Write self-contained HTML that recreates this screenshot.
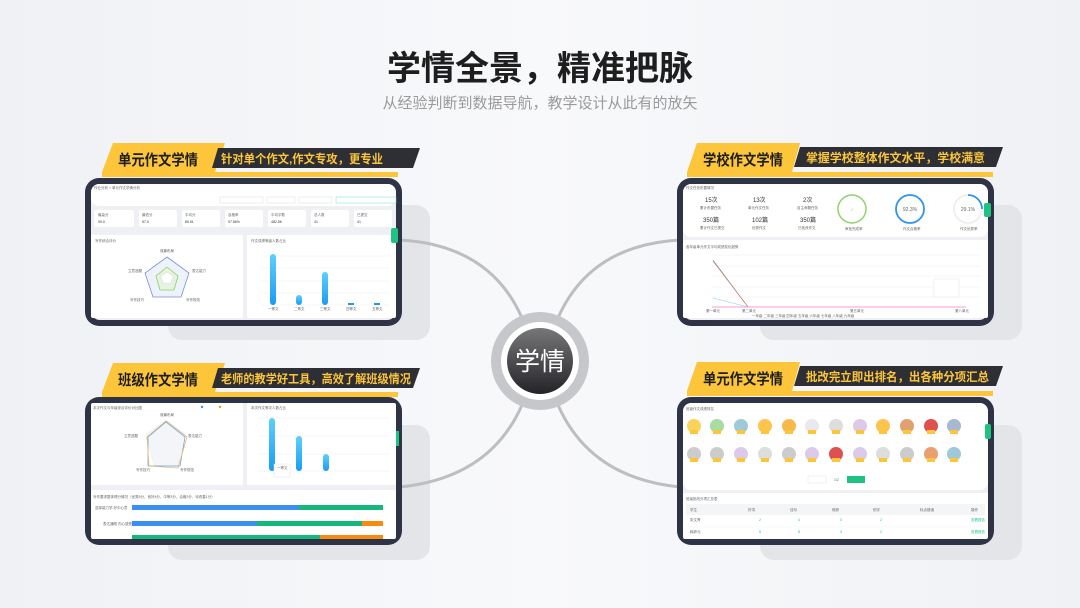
<!DOCTYPE html>
<html><head><meta charset="utf-8"><style>
html,body{margin:0;padding:0;width:1080px;height:608px;overflow:hidden;background:#f3f4f8}
svg{display:block}
text{font-family:"Liberation Sans","Noto Sans CJK SC",sans-serif}
</style></head><body>
<svg width="1080" height="608" viewBox="0 0 1080 608" xmlns="http://www.w3.org/2000/svg">
<defs>
<linearGradient id="bg" x1="0" y1="0" x2="1" y2="0"><stop offset="0" stop-color="#eff1f5"/><stop offset="0.5" stop-color="#f8f9fb"/><stop offset="1" stop-color="#eff1f5"/></linearGradient>
<linearGradient id="dk" x1="0" y1="0" x2="0" y2="1"><stop offset="0" stop-color="#77777a"/><stop offset="1" stop-color="#242428"/></linearGradient>
<linearGradient id="bar" x1="0" y1="0" x2="0" y2="1"><stop offset="0" stop-color="#5fd0fb"/><stop offset="1" stop-color="#1a9cf5"/></linearGradient>
</defs>
<rect width="1080" height="608" fill="url(#bg)"/>
<text x="540" y="80" text-anchor="middle" font-size="34" font-weight="bold" fill="#1e1e1e">学情全景，精准把脉</text>
<text x="540" y="108" text-anchor="middle" font-size="15" fill="#9a9a9a">从经验判断到数据导航，教学设计从此有的放矢</text>

<g fill="#e4e5e9">
<rect x="168" y="205" width="262" height="135" rx="14"/>
<rect x="760" y="205" width="262" height="135" rx="14"/>
<rect x="168" y="425" width="262" height="135" rx="14"/>
<rect x="760" y="425" width="262" height="135" rx="14"/>
</g>

<g fill="none" stroke="#bdbec1" stroke-width="3">
<path d="M400 240 Q490 245 522 318"/>
<path d="M400 487 Q490 478 522 405"/>
<path d="M680 240 Q590 245 558 318"/>
<path d="M680 487 Q590 478 558 405"/>
</g>
<circle cx="540" cy="361" r="49" fill="#c6c7ca"/>
<circle cx="540" cy="361" r="39" fill="#fff"/>
<circle cx="540" cy="361" r="33" fill="url(#dk)"/>
<text x="540" y="370" text-anchor="middle" font-size="25" fill="#fff">学情</text>

<g>
<polygon points="113,143 225,143 215,172 102,172" fill="#fcc53a"/>
<rect x="102" y="172" width="296" height="5" fill="#fcc53a"/>
<polygon points="218,148 420,148 413,168 212,168" fill="#2d2f34"/>
<text x="118" y="165" font-size="15" font-weight="bold" fill="#1d1d1d" textLength="80" lengthAdjust="spacingAndGlyphs">单元作文学情</text>
<text x="221" y="163" font-size="12" font-weight="bold" fill="#fcc53a" textLength="162" lengthAdjust="spacingAndGlyphs">针对单个作文,作文专攻，更专业</text>

<polygon points="697,143 800,143 792,172 687,172" fill="#fcc53a"/>
<rect x="687" y="172" width="306" height="5" fill="#fcc53a"/>
<polygon points="800,147 1003,147 996,167 794,167" fill="#2d2f34"/>
<text x="703" y="165" font-size="15" font-weight="bold" fill="#1d1d1d" textLength="80" lengthAdjust="spacingAndGlyphs">学校作文学情</text>
<text x="806" y="162" font-size="12" font-weight="bold" fill="#fcc53a" textLength="179" lengthAdjust="spacingAndGlyphs">掌握学校整体作文水平，学校满意</text>

<polygon points="113,363 225,363 215,392 102,392" fill="#fcc53a"/>
<rect x="102" y="392" width="296" height="5" fill="#fcc53a"/>
<polygon points="218,368 420,368 413,388 212,388" fill="#2d2f34"/>
<text x="118" y="385" font-size="15" font-weight="bold" fill="#1d1d1d" textLength="80" lengthAdjust="spacingAndGlyphs">班级作文学情</text>
<text x="221" y="383" font-size="12" font-weight="bold" fill="#fcc53a" textLength="190" lengthAdjust="spacingAndGlyphs">老师的教学好工具，高效了解班级情况</text>

<polygon points="697,362 800,362 792,391 687,391" fill="#fcc53a"/>
<rect x="687" y="391" width="306" height="5" fill="#fcc53a"/>
<polygon points="800,366 1003,366 996,386 794,386" fill="#2d2f34"/>
<text x="703" y="384" font-size="15" font-weight="bold" fill="#1d1d1d" textLength="80" lengthAdjust="spacingAndGlyphs">单元作文学情</text>
<text x="806" y="381" font-size="12" font-weight="bold" fill="#fcc53a" textLength="183" lengthAdjust="spacingAndGlyphs">批改完立即出排名，出各种分项汇总</text>
</g>

<g fill="#2e3446">
<rect x="85" y="178" width="317" height="148" rx="14"/>
<rect x="677" y="178" width="317" height="148" rx="14"/>
<rect x="85" y="397" width="317" height="148" rx="14"/>
<rect x="677" y="397" width="317" height="148" rx="14"/>
</g>
<g fill="#eef0f3">
<rect x="91" y="184" width="305" height="136" rx="9"/>
<rect x="683" y="184" width="305" height="136" rx="9"/>
<rect x="91" y="403" width="305" height="136" rx="9"/>
<rect x="683" y="403" width="305" height="136" rx="9"/>
</g>

<g font-size="3.5" fill="#666">
<rect x="91" y="184" width="305" height="22" rx="8" fill="#fff"/>
<text x="94" y="189">作业分析 &gt; 单元作文学情分析</text>
<rect x="220" y="197" width="43" height="6" fill="#fff" stroke="#ddd" stroke-width="0.5"/>
<rect x="267" y="197" width="28" height="6" fill="#fff" stroke="#ddd" stroke-width="0.5"/>
<rect x="299" y="197" width="33" height="6" fill="#fff" stroke="#ddd" stroke-width="0.5"/>
<rect x="336" y="197" width="60" height="6" fill="#fff" stroke="#7dd" stroke-width="0.5"/>
<g fill="#fff">
<rect x="94" y="210" width="40" height="17" rx="2"/><rect x="139" y="210" width="38" height="17" rx="2"/>
<rect x="182" y="210" width="38" height="17" rx="2"/><rect x="225" y="210" width="38" height="17" rx="2"/>
<rect x="268" y="210" width="38" height="17" rx="2"/><rect x="311" y="210" width="38" height="17" rx="2"/>
<rect x="354" y="210" width="38" height="17" rx="2"/>
</g>
<text x="98" y="216">最高分</text><text x="98" y="223" fill="#333">99.0</text>
<text x="142" y="216">最低分</text><text x="142" y="223" fill="#333">57.0</text>
<text x="185" y="216">平均分</text><text x="185" y="223" fill="#333">85.51</text>
<text x="228" y="216">及格率</text><text x="228" y="223" fill="#333">97.56%</text>
<text x="271" y="216">平均字数</text><text x="271" y="223" fill="#333">482.56</text>
<text x="314" y="216">总人数</text><text x="314" y="223" fill="#333">41</text>
<text x="357" y="216">已提交</text><text x="357" y="223" fill="#333">41</text>
<rect x="91" y="235" width="152" height="83" rx="2" fill="#fff"/>
<rect x="247" y="235" width="149" height="83" rx="2" fill="#fff"/>
<text x="95" y="242">写作综合评价</text>
<text x="251" y="242">作文成绩等级人数占比</text>
<polygon points="167,257 189,273 181,297 153,297 145,273" fill="#eef2fb" stroke="#7a8ed6" stroke-width="0.8"/>
<polygon points="167,267 178,276 174,290 160,290 156,276" fill="#e6f3e0" stroke="#8ccf6a" stroke-width="0.8"/>
<g stroke="#ddd" stroke-width="0.5" fill="#fff"><polygon points="167,272 173,276 171,283 163,283 161,276"/></g>
<text x="160" y="252">谋篇布局</text><text x="192" y="272">表达能力</text><text x="186" y="301">写作规范</text><text x="130" y="301">写作技巧</text><text x="128" y="272">立意选题</text>
<g stroke="#eee" stroke-width="0.5"><line x1="262" y1="256" x2="390" y2="256"/><line x1="262" y1="268" x2="390" y2="268"/><line x1="262" y1="281" x2="390" y2="281"/><line x1="262" y1="293" x2="390" y2="293"/><line x1="262" y1="305" x2="390" y2="305"/></g>
<rect x="270" y="254" width="6" height="51" rx="3" fill="url(#bar)"/>
<rect x="296" y="295" width="6" height="10" rx="3" fill="url(#bar)"/>
<rect x="322" y="272" width="6" height="33" rx="3" fill="url(#bar)"/>
<rect x="348" y="303" width="6" height="2" fill="#1a9cf5"/>
<rect x="374" y="303" width="6" height="2" fill="#1a9cf5"/>
<text x="268" y="310">一等文</text><text x="294" y="310">二等文</text><text x="320" y="310">三等文</text><text x="346" y="310">四等文</text><text x="372" y="310">五等文</text>
<rect x="391" y="228" width="7" height="15" rx="2" fill="#1ec383"/>
</g>

<g font-size="3.5" fill="#666">
<rect x="683" y="184" width="305" height="53" rx="8" fill="#fff"/>
<text x="686" y="189">作文任务布置情况</text>
<g fill="#333" font-size="6"><text x="705" y="202">15次</text><text x="753" y="202">13次</text><text x="803" y="202">2次</text>
<text x="703" y="222">350篇</text><text x="752" y="222">102篇</text><text x="800" y="222">350篇</text></g>
<text x="700" y="209">累计布置任务</text><text x="748" y="209">单元作文任务</text><text x="797" y="209">自主命题任务</text>
<text x="700" y="229">累计作文已提交</text><text x="752" y="229">优秀作文</text><text x="798" y="229">已批改作文</text>
<circle cx="852" cy="209" r="14" fill="none" stroke="#8bd36a" stroke-width="1.5"/>
<text x="852" y="211" text-anchor="middle" fill="#8bd36a">✓</text>
<circle cx="910" cy="209" r="14" fill="none" stroke="#2d94ef" stroke-width="1.8"/>
<text x="910" y="211" text-anchor="middle" font-size="5">92.3%</text>
<circle cx="968" cy="209" r="14" fill="none" stroke="#eee" stroke-width="1.8"/>
<path d="M968 195 A14 14 0 0 1 982 209" fill="none" stroke="#2d94ef" stroke-width="1.8"/>
<text x="968" y="211" text-anchor="middle" font-size="5">29.1%</text>
<text x="845" y="230">审批完成率</text><text x="903" y="230">作文合格率</text><text x="960" y="230">作文优秀率</text>
<rect x="683" y="240" width="305" height="78" rx="2" fill="#fff"/>
<text x="686" y="248">各年级单元作文平均成绩变化趋势</text>
<g stroke="#eee" stroke-width="0.5"><line x1="712" y1="255" x2="980" y2="255"/><line x1="712" y1="266" x2="980" y2="266"/><line x1="712" y1="276" x2="980" y2="276"/><line x1="712" y1="287" x2="980" y2="287"/><line x1="712" y1="297" x2="980" y2="297"/></g>
<line x1="712" y1="307" x2="966" y2="307" stroke="#f3a" stroke-width="0.6"/>
<polyline points="713,260 748,307" stroke="#3a9" stroke-width="0.6" fill="none"/>
<polyline points="713,261 748,307" stroke="#e55" stroke-width="0.6" fill="none"/>
<polyline points="713,298 748,307" stroke="#7cd1f0" stroke-width="0.6" fill="none"/>
<rect x="934" y="279" width="25" height="18" fill="#fff" stroke="#ddd" stroke-width="0.4"/>
<text x="706" y="312">第一单元</text><text x="742" y="312">第二单元</text><text x="850" y="312">第五单元</text><text x="955" y="312">第八单元</text>
<text x="752" y="317">一年级 二年级 三年级 四年级 五年级 六年级 七年级 八年级 九年级</text>
<rect x="984" y="203" width="7" height="14" rx="2" fill="#1ec383"/>
</g>

<g font-size="3.5" fill="#666">
<rect x="91" y="403" width="152" height="82" rx="2" fill="#fff"/>
<rect x="247" y="403" width="149" height="82" rx="2" fill="#fff"/>
<text x="93" y="409">本次作文与年级综合评价对比图</text><text x="251" y="409">本次作文等次人数占比</text>
<circle cx="202" cy="407" r="1.2" fill="#2d94ef"/><circle cx="220" cy="407" r="1.2" fill="#f90"/>
<polygon points="166,420 186,434 178,466 154,466 146,434" fill="#f4f5f9" stroke="#eee" stroke-width="0.5"/>
<polygon points="166,422 185,437 180,466 148,466 148,437" fill="none" stroke="#5aa0ea" stroke-width="0.7"/>
<polygon points="166,421 187,437 178,468 149,466 147,437" fill="none" stroke="#e9b86c" stroke-width="0.8"/>
<text x="160" y="416">谋篇布局</text><text x="188" y="437">表达能力</text><text x="180" y="471">写作规范</text><text x="136" y="471">写作技巧</text><text x="124" y="437">立意选题</text>
<g stroke="#eee" stroke-width="0.5"><line x1="258" y1="418" x2="390" y2="418"/><line x1="258" y1="436" x2="390" y2="436"/><line x1="258" y1="454" x2="390" y2="454"/><line x1="258" y1="471" x2="390" y2="471"/></g>
<rect x="269" y="418" width="6" height="53" rx="3" fill="url(#bar)"/>
<rect x="296" y="436" width="6" height="35" rx="3" fill="url(#bar)"/>
<rect x="323" y="454" width="6" height="17" rx="3" fill="url(#bar)"/>
<rect x="274" y="464" width="16" height="13" fill="#fff" stroke="#ddd" stroke-width="0.4"/>
<text x="277" y="469">一等文</text>
<rect x="91" y="490" width="305" height="49" rx="2" fill="#fff"/>
<text x="93" y="498">写作要求整体得分情况（优秀5分、良好4分、中等3分、合格2分、待改善1分）</text>
<rect x="132" y="505" width="167" height="5" fill="#3a8ff0"/><rect x="299" y="505" width="84" height="5" fill="#14b87a"/>
<rect x="132" y="521" width="125" height="5" fill="#3a8ff0"/><rect x="257" y="521" width="105" height="5" fill="#14b87a"/><rect x="362" y="521" width="21" height="5" fill="#f98a10"/>
<rect x="132" y="535" width="188" height="4" fill="#14b87a"/><rect x="320" y="535" width="63" height="4" fill="#f98a10"/>
<text x="95" y="509">选择能力学 好中心意</text><text x="103" y="525">表达通顺 内心感受</text>
<rect x="396" y="431" width="3" height="15" fill="#1ec383"/>
</g>

<g font-size="3.5" fill="#666">
<rect x="683" y="403" width="305" height="87" rx="8" fill="#fff"/>
<text x="686" y="410">班级作文成绩排名</text>
<g>
<circle cx="694" cy="426" r="7" fill="#fbd35a"/><circle cx="717" cy="426" r="7" fill="#a8dca0"/><circle cx="741" cy="426" r="7" fill="#9fc8d8"/><circle cx="765" cy="426" r="7" fill="#fbc451"/><circle cx="789" cy="426" r="7" fill="#f7b94a"/><circle cx="812" cy="426" r="7" fill="#e8e8ee"/><circle cx="836" cy="426" r="7" fill="#ddd"/><circle cx="860" cy="426" r="7" fill="#dccbe8"/><circle cx="883" cy="426" r="7" fill="#fbc451"/><circle cx="907" cy="426" r="7" fill="#e0a070"/><circle cx="931" cy="426" r="7" fill="#e05050"/><circle cx="954" cy="426" r="7" fill="#a8b8d0"/>
<circle cx="694" cy="454" r="7" fill="#ccc"/><circle cx="717" cy="454" r="7" fill="#ccc"/><circle cx="741" cy="454" r="7" fill="#dccbe8"/><circle cx="765" cy="454" r="7" fill="#ddd"/><circle cx="789" cy="454" r="7" fill="#ccc"/><circle cx="812" cy="454" r="7" fill="#dccbe8"/><circle cx="836" cy="454" r="7" fill="#e05050"/><circle cx="860" cy="454" r="7" fill="#dccbe8"/><circle cx="883" cy="454" r="7" fill="#ddd"/><circle cx="907" cy="454" r="7" fill="#ccc"/><circle cx="931" cy="454" r="7" fill="#e8a070"/><circle cx="954" cy="454" r="7" fill="#9fc8d8"/>
</g>
<g fill="#fcc53a"><rect x="690" y="430" width="8" height="4"/><rect x="713" y="430" width="8" height="4"/><rect x="737" y="430" width="8" height="4"/><rect x="761" y="430" width="8" height="4"/><rect x="785" y="430" width="8" height="4"/><rect x="808" y="430" width="8" height="4"/><rect x="832" y="430" width="8" height="4"/><rect x="856" y="430" width="8" height="4"/><rect x="879" y="430" width="8" height="4"/><rect x="903" y="430" width="8" height="4"/><rect x="927" y="430" width="8" height="4"/><rect x="950" y="430" width="8" height="4"/>
<rect x="690" y="458" width="8" height="4"/><rect x="713" y="458" width="8" height="4"/><rect x="737" y="458" width="8" height="4"/><rect x="761" y="458" width="8" height="4"/><rect x="785" y="458" width="8" height="4"/><rect x="808" y="458" width="8" height="4"/><rect x="832" y="458" width="8" height="4"/><rect x="856" y="458" width="8" height="4"/><rect x="879" y="458" width="8" height="4"/><rect x="903" y="458" width="8" height="4"/><rect x="927" y="458" width="8" height="4"/><rect x="950" y="458" width="8" height="4"/></g>
<rect x="808" y="476" width="18" height="7" fill="#fff" stroke="#ddd" stroke-width="0.4"/>
<text x="834" y="481">1/2</text>
<rect x="847" y="476" width="18" height="7" fill="#1ec383"/>
<rect x="683" y="493" width="305" height="46" rx="2" fill="#fff"/>
<text x="686" y="500">班级批改分项汇总表</text>
<rect x="686" y="504" width="299" height="11" fill="#f4f5f7"/>
<text x="690" y="511">学生</text><text x="748" y="511">好词</text><text x="790" y="511">佳句</text><text x="832" y="511">修辞</text><text x="873" y="511">别字</text><text x="920" y="511">标点错误</text><text x="971" y="511">操作</text>
<text x="690" y="521">张文青</text><text x="690" y="533">韩婷元</text>
<g fill="#1ec383"><text x="759" y="521">2</text><text x="798" y="521">4</text><text x="840" y="521">3</text><text x="880" y="521">2</text><text x="971" y="521">查看报告</text>
<text x="759" y="533">5</text><text x="798" y="533">8</text><text x="840" y="533">3</text><text x="880" y="533">2</text><text x="971" y="533">查看报告</text></g>
<line x1="686" y1="527" x2="985" y2="527" stroke="#eee" stroke-width="0.4"/>
<rect x="985" y="424" width="6" height="15" rx="2" fill="#1ec383"/>
</g>
</svg>
</body></html>
